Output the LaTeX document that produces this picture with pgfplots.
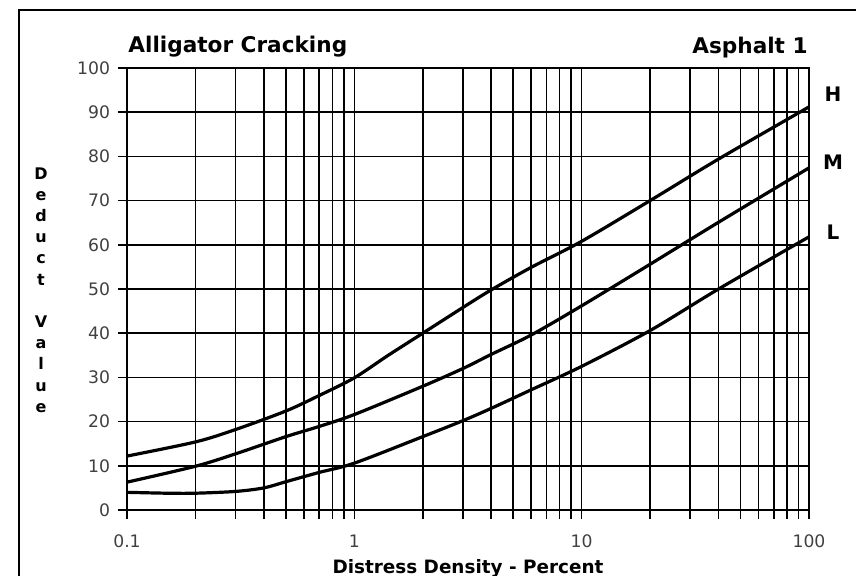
\documentclass[border=0pt]{standalone}
\usepackage{fontspec}
\setmainfont{DejaVu Sans}
\usepackage{pgfplots}
\pgfplotsset{compat=1.18}
\pgfplotstableread{
x y
0.1 12.2
0.2 15.4
0.3 18.2
0.5 22.4
0.7 25.9
1 29.9
1.4 34.9
2 40
3 45.8
4 49.8
6 54.9
10 60.8
20 70
40 79.4
100 91.2
}\dataH
\pgfplotstableread{
x y
0.1 6.3
0.2 9.9
0.3 12.7
0.5 16.6
0.7 18.9
1 21.6
2 28
3 32
4 35.2
6 39.6
10 46.2
20 55.6
40 65.1
100 77.4
}\dataM
\pgfplotstableread{
x y
0.1 4
0.15 3.8
0.2 3.8
0.3 4.2
0.4 5
0.5 6.4
0.7 8.5
1 10.6
2 16.6
3 20.2
4 23
6 27.2
10 32.5
20 40.6
40 50
100 61.8
}\dataL
\begin{document}
\begin{tikzpicture}[x=1pt,y=1pt]
\useasboundingbox (-63.5,-32.5) rectangle (364.5,255);
\draw[line width=1pt] (-54,-40) -- (-54,250) -- (380,250);
\begin{axis}[
  at={(0,0)}, anchor=south west, scale only axis,
  width=341pt, height=221pt,
  xmode=log, xmin=0.1, xmax=100, ymin=0, ymax=100,
  xtick={0.1,1,10,100}, xticklabels={0.1,1,10,100},
  minor xtick={0.2,0.3,0.4,0.5,0.6,0.7,0.8,0.9,2,3,4,5,6,7,8,9,20,30,40,50,60,70,80,90},
  ytick={0,10,...,100},
  grid=both,
  major grid style={black, line width=0.8pt},
  minor grid style={black, line width=0.8pt},
  tick align=outside, tick pos=left,
  major tick length=4.5pt, minor tick length=4.5pt,
  tick style={black, line width=0.8pt},
  axis line style={line width=0.9pt},
  /pgf/number format/assume math mode=true,
  ticklabel style={font=\fontsize{8.6}{10}\selectfont, text=black!75},
  xticklabel style={yshift=-4.5pt},
  yticklabel style={xshift=-0.5pt},
]
\addplot[black, line width=1.6pt, smooth, tension=0.5] table[x=x,y=y] {\dataH};
\addplot[black, line width=1.6pt, smooth, tension=0.5] table[x=x,y=y] {\dataM};
\addplot[black, line width=1.6pt, smooth, tension=0.5] table[x=x,y=y] {\dataL};
\end{axis}
\node[anchor=base west, inner sep=0, font=\fontsize{10.8}{12}\selectfont\bfseries] at (0.5,229) {Alligator Cracking};
\node[anchor=base east, inner sep=0, font=\fontsize{10.8}{12}\selectfont\bfseries] at (340.5,228.5) {Asphalt 1};
\node[anchor=base, inner sep=0, font=\fontsize{9.2}{11}\selectfont\bfseries] at (170.5,-31.5) {Distress Density - Percent};
\node[font=\fontsize{10}{12}\selectfont\bfseries] at (353,208) {H};
\node[font=\fontsize{10}{12}\selectfont\bfseries] at (353,174) {M};
\node[font=\fontsize{10}{12}\selectfont\bfseries] at (353,139) {L};
\node[anchor=north, inner sep=0, align=center, font=\fontsize{8}{10.6}\selectfont\bfseries] at (-43,171.5) {D\\e\\d\\u\\c\\t\\[10.6pt]V\\a\\l\\u\\e};
\end{tikzpicture}
\end{document}
